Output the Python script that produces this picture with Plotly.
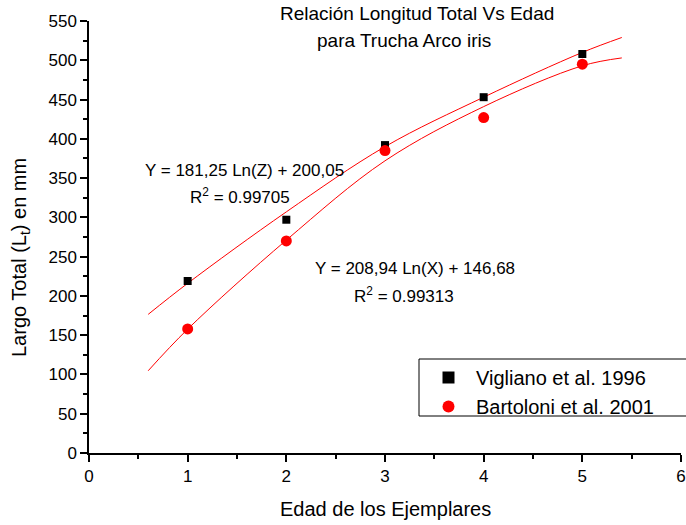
import plotly.graph_objects as go

# Data points
edad = [1, 2, 3, 4, 5]
vigliano = [219, 297, 392, 453, 508]
bartoloni = [158, 270, 385, 427, 495]

# Fitted curves
fit_x = [0.6, 1, 2, 3, 4, 5, 5.4]
fit_vigliano = [176.5, 216, 307, 390, 453, 510, 529]
fit_bartoloni = [104.7, 157.7, 271, 372, 441, 493, 503]

x_ticks = [0, 1, 2, 3, 4, 5, 6]
y_ticks = list(range(0, 551, 50))

FONT = "Liberation Sans, Arial, sans-serif"

W, H = 686, 525
L, T = 89, 21
PW, PH = 592, 432
R = W - L - PW
B = H - T - PH


def px(xs):
    return (xs - L) / PW


def py(ys):
    return (T + PH - ys) / PH


fig = go.Figure()
fig.add_trace(go.Scatter(x=fit_x, y=fit_vigliano, mode="lines",
                         line=dict(color="#ff0000", width=1, shape="spline", smoothing=1.0),
                         showlegend=False, hoverinfo="skip"))
fig.add_trace(go.Scatter(x=fit_x, y=fit_bartoloni, mode="lines",
                         line=dict(color="#ff0000", width=1, shape="spline", smoothing=1.0),
                         showlegend=False, hoverinfo="skip"))
fig.add_trace(go.Scatter(x=edad, y=vigliano, mode="markers", name="Vigliano et al. 1996",
                         marker=dict(symbol="square", size=8, color="black")))
fig.add_trace(go.Scatter(x=edad, y=bartoloni, mode="markers", name="Bartoloni et al. 2001",
                         marker=dict(symbol="circle", size=11, color="#ff0000")))

axis_common = dict(showline=True, linecolor="black", linewidth=1.5, ticks="outside", ticklen=7,
                   tickwidth=1.5, tickcolor="black", showgrid=False, zeroline=False, automargin=False,
                   tickfont=dict(size=17))

fig.update_layout(
    width=W, height=H,
    margin=dict(l=L, r=R, t=T, b=B),
    paper_bgcolor="white", plot_bgcolor="white",
    font=dict(family=FONT, size=17, color="black"),
    xaxis=dict(range=[0, 6], tickvals=x_ticks,
               minor=dict(dtick=0.5, ticks="outside", ticklen=4, tickwidth=1.5, tickcolor="black", showgrid=False),
               **axis_common),
    yaxis=dict(range=[0, 550], tickvals=y_ticks,
               minor=dict(dtick=25, ticks="outside", ticklen=4, tickwidth=1.5, tickcolor="black", showgrid=False),
               **axis_common),
    legend=dict(x=px(421), y=py(358), xanchor="left", yanchor="top", bgcolor="rgba(0,0,0,0)",
                borderwidth=0, font=dict(size=20), itemsizing="constant", itemwidth=45, tracegroupgap=0),
    shapes=[dict(type="rect", xref="paper", yref="paper", x0=px(419), x1=px(700), y0=py(416), y1=py(359),
                 line=dict(color="black", width=1), fillcolor="white", layer="below")],
)

annots = [
    ("Relación Longitud Total Vs Edad", 417, 14, 19, 0),
    ("para Trucha Arco iris", 404, 40, 19, 0),
    ("Y = 181,25 Ln(Z) + 200,05", 245, 170, 17, 0),
    ("R<sup>2</sup> = 0.99705", 240, 196, 17, 0),
    ("Y = 208,94 Ln(X) + 146,68", 415, 268, 17, 0),
    ("R<sup>2</sup> = 0.99313", 404, 295, 17, 0),
    ("Largo Total (L<sub>t</sub>) en mm", 20, 258, 20, -90),
    ("Edad de los Ejemplares", 385, 509, 20, 0),
]
for text, xs, ys, size, ang in annots:
    fig.add_annotation(text=text, x=px(xs), y=py(ys), xref="paper", yref="paper", showarrow=False,
                       xanchor="center", yanchor="middle", textangle=ang, font=dict(size=size))

fig.write_html("out.html", config={"displayModeBar": False},
               post_script="document.body.style.margin='0px';document.body.style.overflow='hidden';")
